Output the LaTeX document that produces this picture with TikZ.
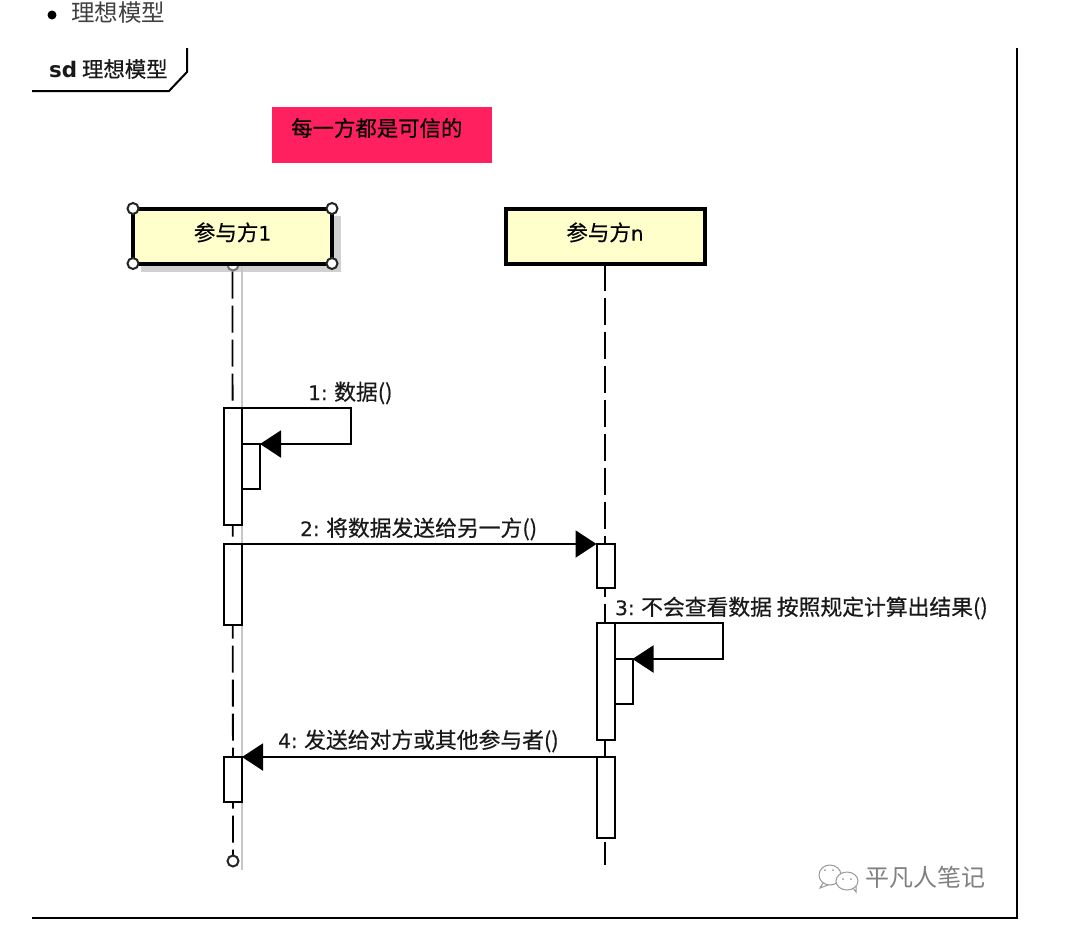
\documentclass[tikz,border=0pt]{standalone}
\usepackage{fontspec}
\setmainfont{Noto Sans CJK SC}
\newfontfamily\heavyfont[FakeBold=0.5]{Noto Sans CJK SC}
\newfontfamily\latinfont[FakeBold=0.3]{DejaVu Sans}
\newfontfamily\latinbold{DejaVu Sans}
\usetikzlibrary{arrows.meta,positioning}
\definecolor{notepink}{HTML}{FF2060}
\definecolor{boxyellow}{HTML}{FFFFCC}
\tikzset{>={Triangle[length=21pt,width=27pt]}}
\newcommand{\stepnum}[1]{{\latinfont\fontsize{20}{20}\selectfont #1}}
\tikzset{
    party/.style={draw=black, fill=boxyellow, line width=4pt, minimum width=199pt, minimum height=55pt, inner sep=0pt, outer sep=0pt, font=\heavyfont\fontsize{21.5}{22}\selectfont},
    actbar/.style={draw=black, fill=white, line width=2pt, minimum width=18pt, inner sep=0pt, outer sep=0pt},
    lifeline/.style={line width=1.8pt, dash pattern=on 27pt off 7pt},
    msg/.style={->, line width=2pt},
    msglabel/.style={anchor=west, inner sep=0pt, text=black!90, font=\heavyfont\fontsize{21.8}{22}\selectfont},
    handle/.style={draw=black!85, fill=white, line width=2pt, circle, minimum size=11pt, inner sep=0pt},
}
\begin{document}
\begin{tikzpicture}[x=1pt,y=-1pt]
            \useasboundingbox (0,0) rectangle (1084,935);
            \fill[white] (0,0) rectangle (1084,935);

            % heading
            \fill[black] (52,15) circle (4.5pt);
            \node[anchor=west, inner sep=0pt, font=\fontsize{23.5}{24}\selectfont, text=black!75] (heading) at (71,13) {理想模型};

            % frame and its tag
            \draw[line width=2pt] (187,48) -- (187,72) -- (169,91) -- (32,91);
            \draw[line width=2pt] (1017,48) -- (1017,918) -- (32,918);
            \node[msglabel, font=\heavyfont\fontsize{21.4}{22}\selectfont] (tag) at (49,69) {{\latinbold\bfseries sd} 理想模型};

            % note
            \node[fill=notepink, minimum width=220pt, minimum height=56pt, inner sep=0pt] (note) at (382,135) {};
            \node[msglabel, text=black, font=\heavyfont\fontsize{21.4}{22}\selectfont] (notetext) at (291,128) {每一方都是可信的};

            % shadow of the selected participant
            \fill[black!18] (141,216) rectangle (341,272);
            \draw[black!22, line width=1.5pt] (242,264) -- (242,870);

            % participants
            \node[handle, draw=black!55] (hTop) at (233,265) {};
            \node[party] (partyA) at (232.5,236) {\raisebox{9pt}{参与方\stepnum{1}}};
            \node[party] (partyN) at (605,236) {\raisebox{9pt}{参与方\stepnum{n}}};
            \coordinate (endA) at (233,856);
            \coordinate (endN) at (605,865);
            \draw[lifeline] ([yshift=-8pt]partyA.south) -- (endA);
            \draw[lifeline] (partyN.south) -- (endN);

            \node[handle] (hNW) at (partyA.north west) {};
            \node[handle] (hNE) at (partyA.north east) {};
            \node[handle] (hSW) at (partyA.south west) {};
            \node[handle] (hSE) at (partyA.south east) {};
            \node[handle] (hEnd) at (233,861) {};

            % activation bars
            \node[actbar, minimum height=117pt] (barA1) at (233,466.5) {};
            \node[actbar, minimum height=45pt] (selfA) at (251,466.5) {};
            \node[actbar, minimum height=81pt] (barA2) at (233,584.5) {};
            \node[actbar, minimum height=45pt] (barA3) at (233,779.5) {};
            \node[actbar, minimum height=44pt] (barN1) at (605.5,566) {};
            \node[actbar, minimum height=117pt] (barN2) at (605.5,681.5) {};
            \node[actbar, minimum height=45pt] (selfN) at (623.5,681.5) {};
            \node[actbar, minimum height=81pt] (barN3) at (605.5,797.5) {};

            % messages
            \draw[msg] (barA1.north east) -- (351,408) |- (selfA.north east);
            \draw[msg] (barA2.north east) -- (barN1.north west);
            \draw[msg] (barN2.north east) -- (723,623) |- (selfN.north east);
            \draw[msg] (barN3.north west) -- (barA3.north east);

            \node[msglabel] (msg1) at (308,393) {\stepnum{1:} 数据()};
            \node[msglabel] (msg2) at (300,529) {\stepnum{2:} 将数据发送给另一方()};
            \node[msglabel] (msg3) at (615,608) {\stepnum{3:} 不会查看数据 按照规定计算出结果()};
            \node[msglabel] (msg4) at (278,741) {\stepnum{4:} 发送给对方或其他参与者()};

            % account mark
            \draw[black!40, line width=1pt, fill=white] (830,875) ellipse (11pt and 10pt);
            \draw[black!40, line width=1pt] (823,883) -- (820,888) -- (828,885);
            \draw[black!40, line width=1pt, fill=white] (847,881) ellipse (11pt and 9pt);
            \draw[black!40, line width=1pt] (853,888) -- (856,892) -- (856,886);
            \fill[black!40] (825,870) circle (1pt) (833,870) circle (1pt) (843,879) circle (1pt) (851,879) circle (1pt);
            \node[anchor=west, inner sep=0pt, text=black!50, font=\fontsize{24}{24}\selectfont] (mark) at (865,877) {平凡人笔记};
\end{tikzpicture}
\end{document}
